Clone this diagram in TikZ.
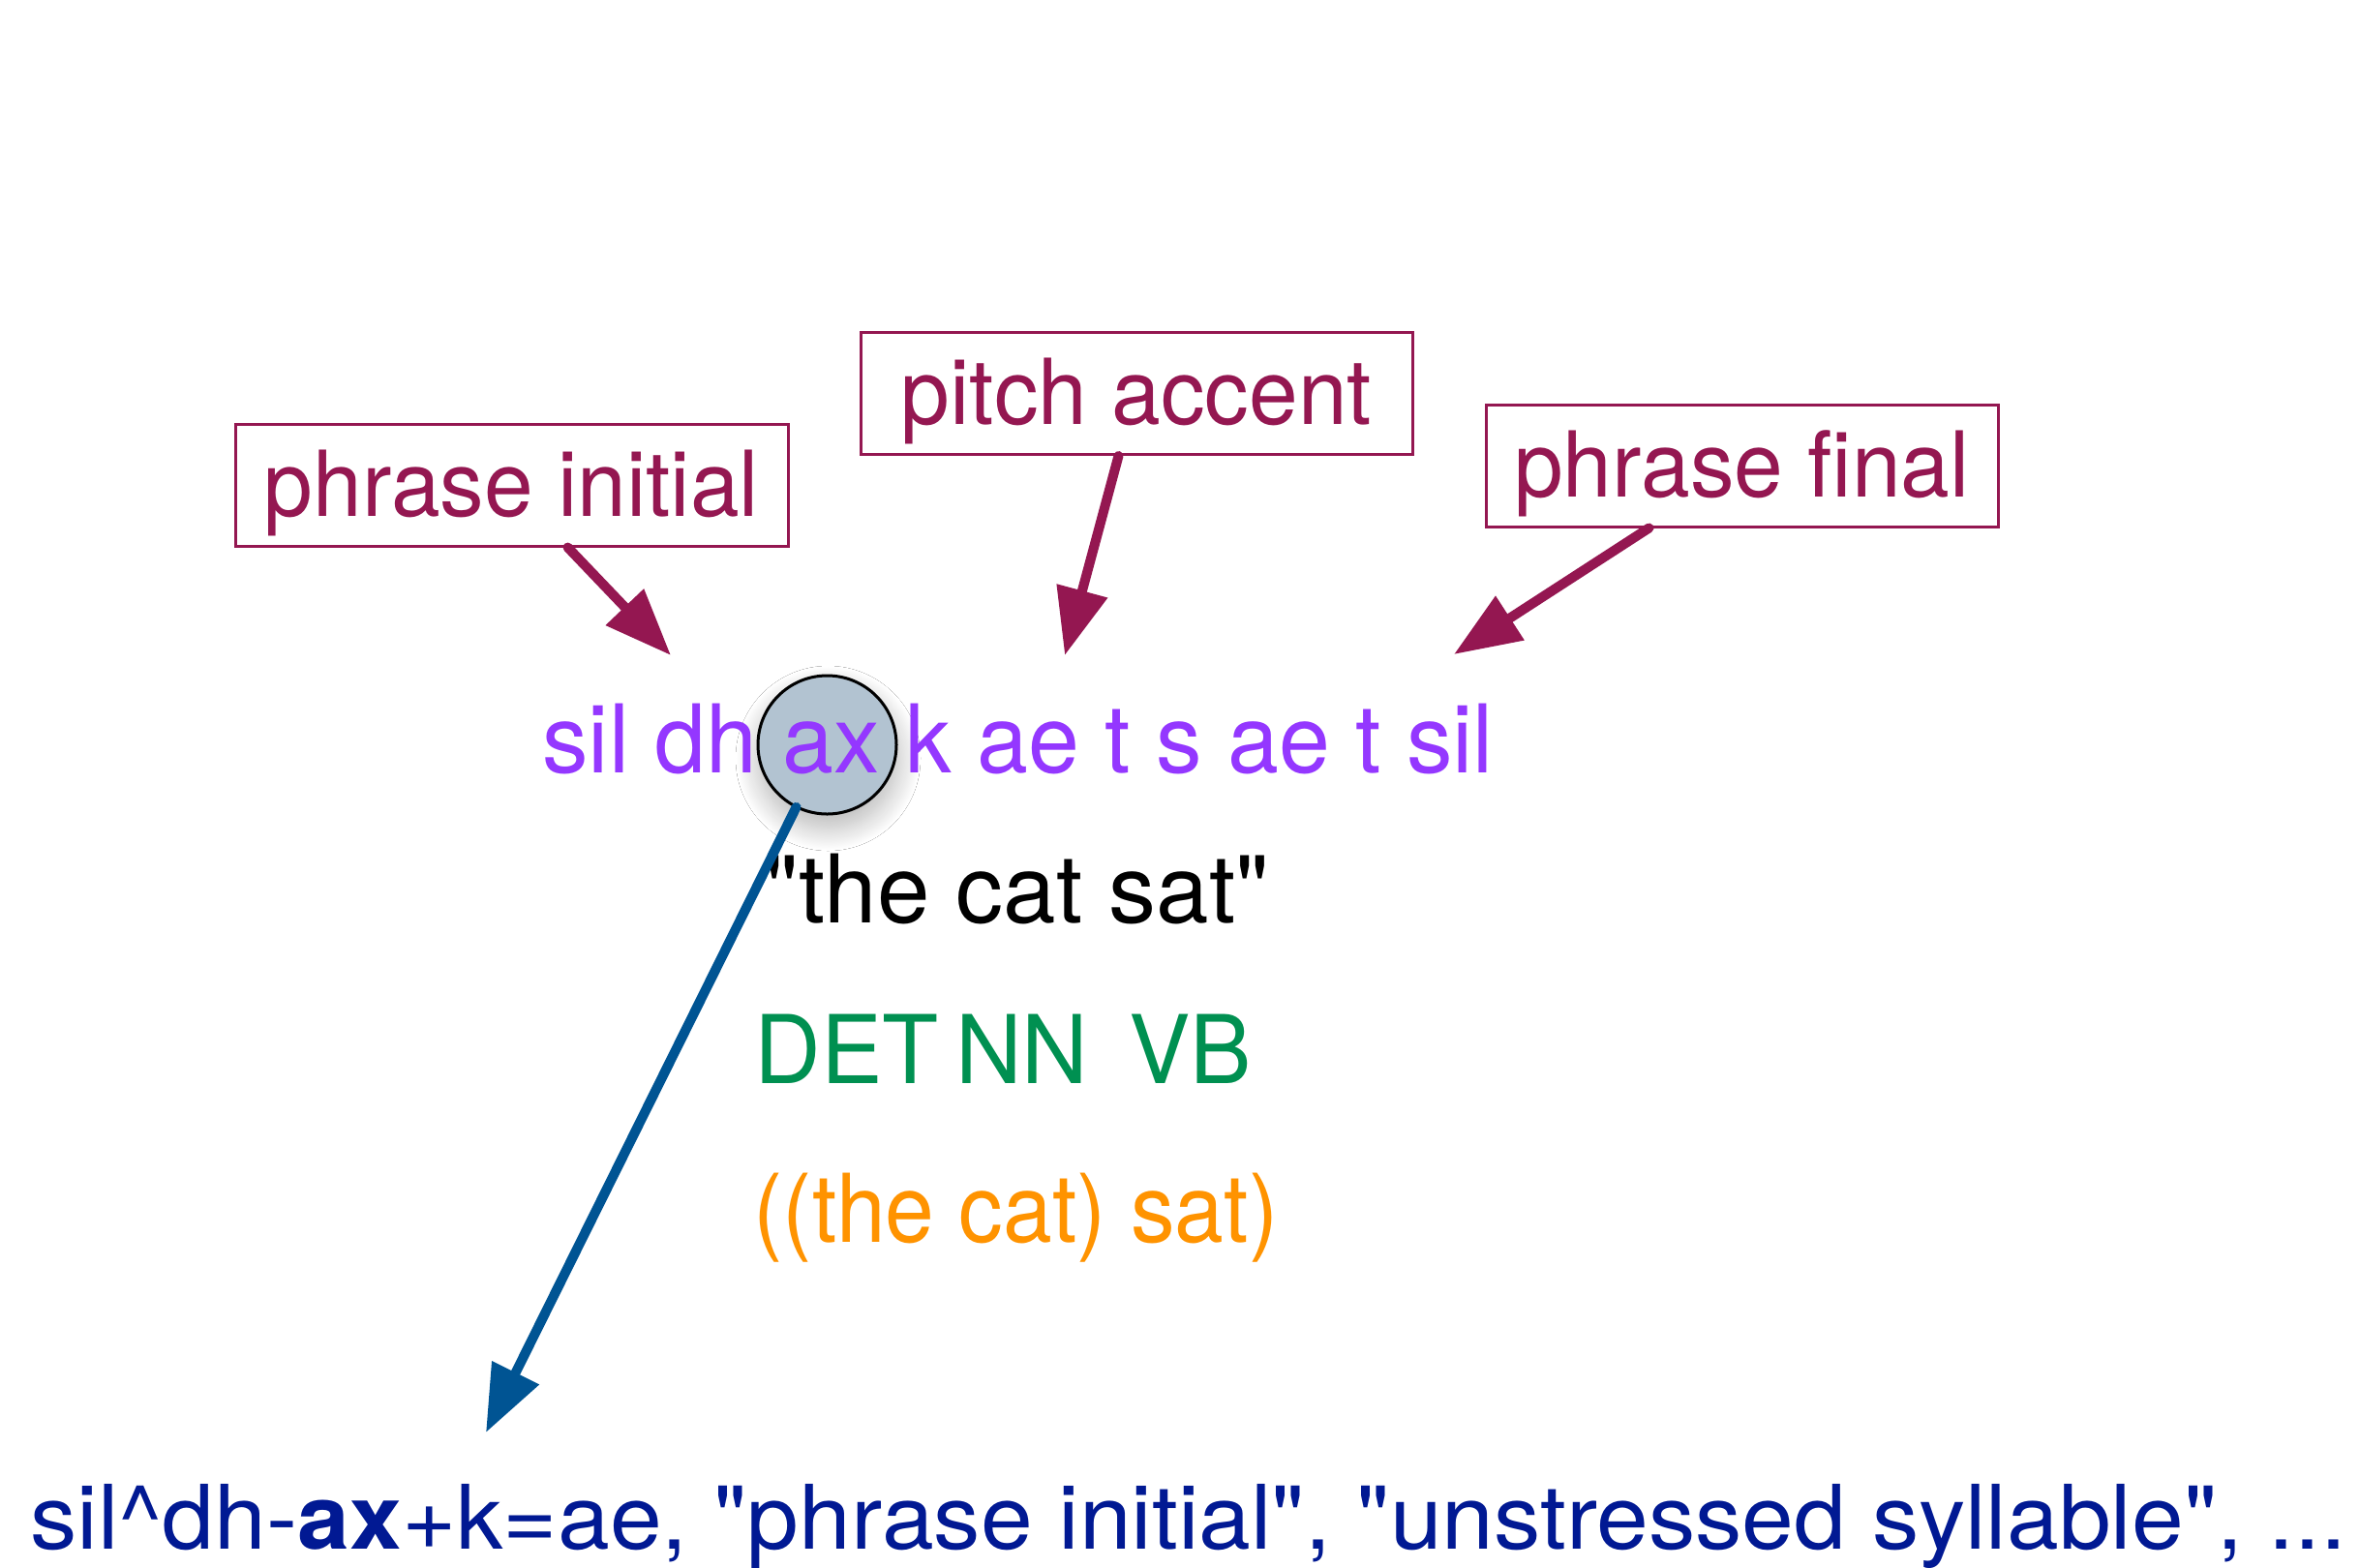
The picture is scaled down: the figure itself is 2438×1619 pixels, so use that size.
\documentclass[tikz,border=0pt]{standalone}
\usepackage{fontspec}
\setmainfont{TeX Gyre Heros}[FakeStretch=0.97,Ligatures=TeXOff]
\usetikzlibrary{arrows.meta,shadows.blur}
\definecolor{maroonc}{HTML}{941751}
\definecolor{grape}{HTML}{9437FF}
\definecolor{moss}{HTML}{009051}
\definecolor{tangerine}{HTML}{FF9300}
\definecolor{ocean}{HTML}{005493}
\definecolor{midnight}{HTML}{011993}
\definecolor{bubble}{HTML}{B2C3D1}
\begin{document}
\begin{tikzpicture}[x=0.5pt,y=-0.5pt,
  labelbox/.style={draw=maroonc, line width=1.5pt, text=maroonc, rectangle,
    font=\fontsize{47pt}{56pt}\selectfont, inner xsep=0pt, inner ysep=0pt,
    text height=47.5pt, text depth=15.5pt},
  rowtext/.style={anchor=base west, inner sep=0pt, font=\fontsize{49pt}{58pt}\selectfont},
  marrow/.style={draw=maroonc, line width=5pt, line cap=round,
    -{Triangle[length=34.5pt,width=26pt]}},
  barrow/.style={draw=ocean, line width=5pt, line cap=round,
    -{Triangle[length=34.5pt,width=26pt]}}]
\path[use as bounding box, fill=white] (0,0) rectangle (2438,1619);

% boxed labels
\node[labelbox, minimum width=285.5pt] (pi) at (528.5,501) {phrase initial};
\node[labelbox, minimum width=285pt] (pa) at (1174,406.5) {pitch accent};
\node[labelbox, minimum width=264.5pt] (pf) at (1799.5,481) {phrase final};

% highlight circle
\node[circle, minimum size=71.5pt, inner sep=0pt, fill=bubble,
  blur shadow={shadow xshift=0.5pt, shadow yshift=-7pt, shadow blur radius=12pt,
    shadow blur steps=40, shadow opacity=30}]
  (circ) at (854.5,769.5) {};

% text rows
\node[rowtext, text=grape] (phones) at (560,798) {sil dh ax k ae t s ae t sil};
\draw[black, line width=1.5pt] (circ.center) circle[radius=71.5];
\node[rowtext, text=black] (words) at (790,953) {\scalebox{1.03}[1]{"the cat sat"}};
\node[rowtext, text=moss] (pos) at (779,1119) {DET\hspace{8.8pt}NN\hspace{21pt}VB};
\node[rowtext, text=tangerine] (tree) at (778,1283) {\scalebox{0.96}[1]{((the cat) sat)}};
\node[anchor=base west, inner sep=0pt, text=midnight, font=\fontsize{46pt}{55pt}\selectfont]
  (label) at (31,1600) {\scalebox{1.083}[1]{sil\textasciicircum dh-\textbf{ax}+k=ae, "phrase initial", "unstressed syllable", ...}};

% arrows
\coordinate (t1) at (693,677);
\coordinate (t2) at (1100,677);
\coordinate (t3) at (1502,676);
\coordinate (bt) at (502,1480);
\draw[marrow] ([xshift=172.5pt]pi.south west) -- (t1);
\draw[marrow] ([xshift=134pt]pa.south west) -- (t2);
\draw[marrow] ([xshift=85pt]pf.south west) -- (t3);
\draw[barrow] (circ) -- (bt);
\end{tikzpicture}
\end{document}
